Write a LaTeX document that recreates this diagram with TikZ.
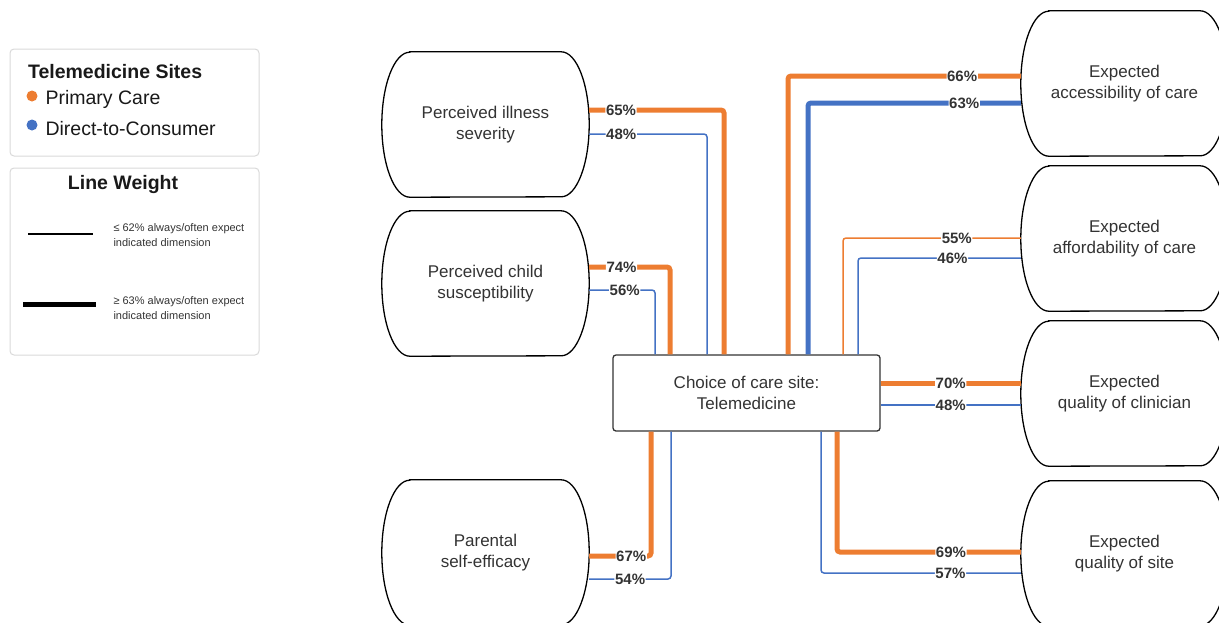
\documentclass[tikz,border=0pt]{standalone}
\usepackage{fontspec}
\setmainfont{Liberation Sans}
\usetikzlibrary{calc}
\definecolor{pcorange}{HTML}{ED7D31}
\definecolor{dtcblue}{HTML}{4472C4}
\definecolor{txt}{HTML}{333333}
\tikzset{f/.style={font=\fontsize{17}{21}\selectfont, text=txt, align=center}}
\tikzset{p/.style={font=\fontsize{15}{15}\selectfont\bfseries, text=txt, fill=white, inner sep=0.6pt}}
\tikzset{factor/.style={f, minimum width=207pt, minimum height=145pt, inner sep=0pt}}
\tikzset{pc/.style={draw=pcorange, rounded corners=3pt}}
\tikzset{dtc/.style={draw=dtcblue, rounded corners=3pt}}
\tikzset{hi/.style={line width=5pt}}
\tikzset{lo/.style={line width=1.5pt}}
\tikzset{lbox/.style={draw=black!15, line width=1pt, rounded corners=4pt, minimum width=249pt}}
\tikzset{lt/.style={font=\fontsize{19.5}{22}\selectfont\bfseries, text=black!90}}
\tikzset{lg/.style={font=\fontsize{19.5}{22}\selectfont, text=black!90}}
\tikzset{sm/.style={font=\fontsize{11}{15}\selectfont, text=txt, align=left}}
\newcommand{\pill}[1]{\draw[line width=1.3pt] ([xshift=28pt]#1.north west) -- ([xshift=-28pt]#1.north east)
  arc[start angle=90, end angle=-90, x radius=28pt, y radius=72.5pt] -- ([xshift=28pt]#1.south west)
  arc[start angle=270, end angle=90, x radius=28pt, y radius=72.5pt] -- cycle;}

\begin{document}
\begin{tikzpicture}[x=1pt, y=-1pt]
  \useasboundingbox (0,0) rectangle (1219,622);
  \node[lbox, minimum height=107pt] (sites) at (134.5,102.5) {};
  \node[lbox, minimum height=187pt] (weight) at (134.5,261.5) {};
  \node[lt, anchor=west] (sitestitle) at (24.5,72) {Telemedicine Sites};
  \node[circle, fill=pcorange, minimum size=11pt, inner sep=0pt] (pcdot) at (32,96) {};
  \node[lg, anchor=west] (pclab) at (42,99.5) {Primary Care};
  \node[circle, fill=dtcblue, minimum size=11pt, inner sep=0pt] (dtcdot) at (32,125) {};
  \node[lg, anchor=west] (dtclab) at (42,128.5) {Direct-to-Consumer};
  \node[lt] (weighttitle) at (123,184) {Line Weight};
  \coordinate (lo1) at (28,234);
  \coordinate (lo2) at (93,234);
  \draw[lo] (lo1) -- (lo2);
  \coordinate (hi1) at (23,304);
  \coordinate (hi2) at (96,304);
  \draw[hi] (hi1) -- (hi2);
  \node[sm, anchor=west] (lolab) at (110,235) {≤ 62\% always/often expect\\indicated dimension};
  \node[sm, anchor=west] (hilab) at (110,308.5) {≥ 63\% always/often expect\\indicated dimension};

  \node[factor] (sev) at (485.5,124.5) {Perceived illness\\severity};
  \node[factor] (sus) at (485.5,283.5) {Perceived child\\susceptibility};
  \node[factor] (eff) at (485.5,552.5) {Parental\\self-efficacy};
  \node[factor] (acc) at (1124.5,83.5) {Expected\\accessibility of care};
  \node[factor] (aff) at (1124.5,238.5) {Expected\\affordability of care};
  \node[factor] (clin) at (1124.5,393.5) {Expected\\quality of clinician};
  \node[factor] (qsite) at (1124.5,553.5) {Expected\\quality of site};
  \pill{sev} \pill{sus} \pill{eff} \pill{acc} \pill{aff} \pill{clin} \pill{qsite}
  \node[f, draw=txt, line width=1.3pt, rounded corners=3pt, minimum width=267pt, minimum height=76pt] (choice) at (746.5,393) {Choice of care site:\\Telemedicine};

  \draw[pc, hi] ([yshift=14.5pt]sev.east) -| node[p, pos=0.118] {65\%} ([xshift=-22.5pt]choice.north);
  \draw[dtc, lo] ([yshift=-9.5pt]sev.east) -| node[p, pos=0.136] {48\%} ([xshift=-39.5pt]choice.north);
  \draw[pc, hi] ([yshift=16.5pt]sus.east) -| node[p, pos=0.2] {74\%} ([xshift=-76.5pt]choice.north);
  \draw[dtc, lo] ([yshift=-6.5pt]sus.east) -| node[p, pos=0.27] {56\%} ([xshift=-91.5pt]choice.north);
  \draw[pc, hi] ([yshift=-3.5pt]eff.east) -| node[p, pos=0.34] {67\%} ([xshift=-95.5pt]choice.south);
  \draw[dtc, lo] ([yshift=-26.5pt]eff.east) -| node[p, pos=0.25] {54\%} ([xshift=-75.5pt]choice.south);

  \draw[pc, hi] ([yshift=7.5pt]acc.west) -| node[p, pos=0.126] {66\%} ([xshift=41.5pt]choice.north);
  \draw[dtc, hi] ([yshift=-19.5pt]acc.west) -| node[p, pos=0.133] {63\%} ([xshift=61.5pt]choice.north);
  \draw[pc, lo] ([yshift=0.5pt]aff.west) -| node[p, pos=0.18] {55\%} ([xshift=96.5pt]choice.north);
  \draw[dtc, lo] ([yshift=-19.5pt]aff.west) -| node[p, pos=0.21] {46\%} ([xshift=111.5pt]choice.north);
  \draw[pc, hi] ([yshift=10pt]choice.east) -- node[p] {70\%} ([yshift=10.5pt]clin.west);
  \draw[dtc, lo] ([yshift=-12pt]choice.east) -- node[p] {48\%} ([yshift=-11.5pt]clin.west);
  \draw[pc, hi] ([yshift=1.5pt]qsite.west) -| node[p, pos=0.19] {69\%} ([xshift=90.5pt]choice.south);
  \draw[dtc, lo] ([yshift=-19.5pt]qsite.west) -| node[p, pos=0.176] {57\%} ([xshift=74.5pt]choice.south);
\end{tikzpicture}
\end{document}
